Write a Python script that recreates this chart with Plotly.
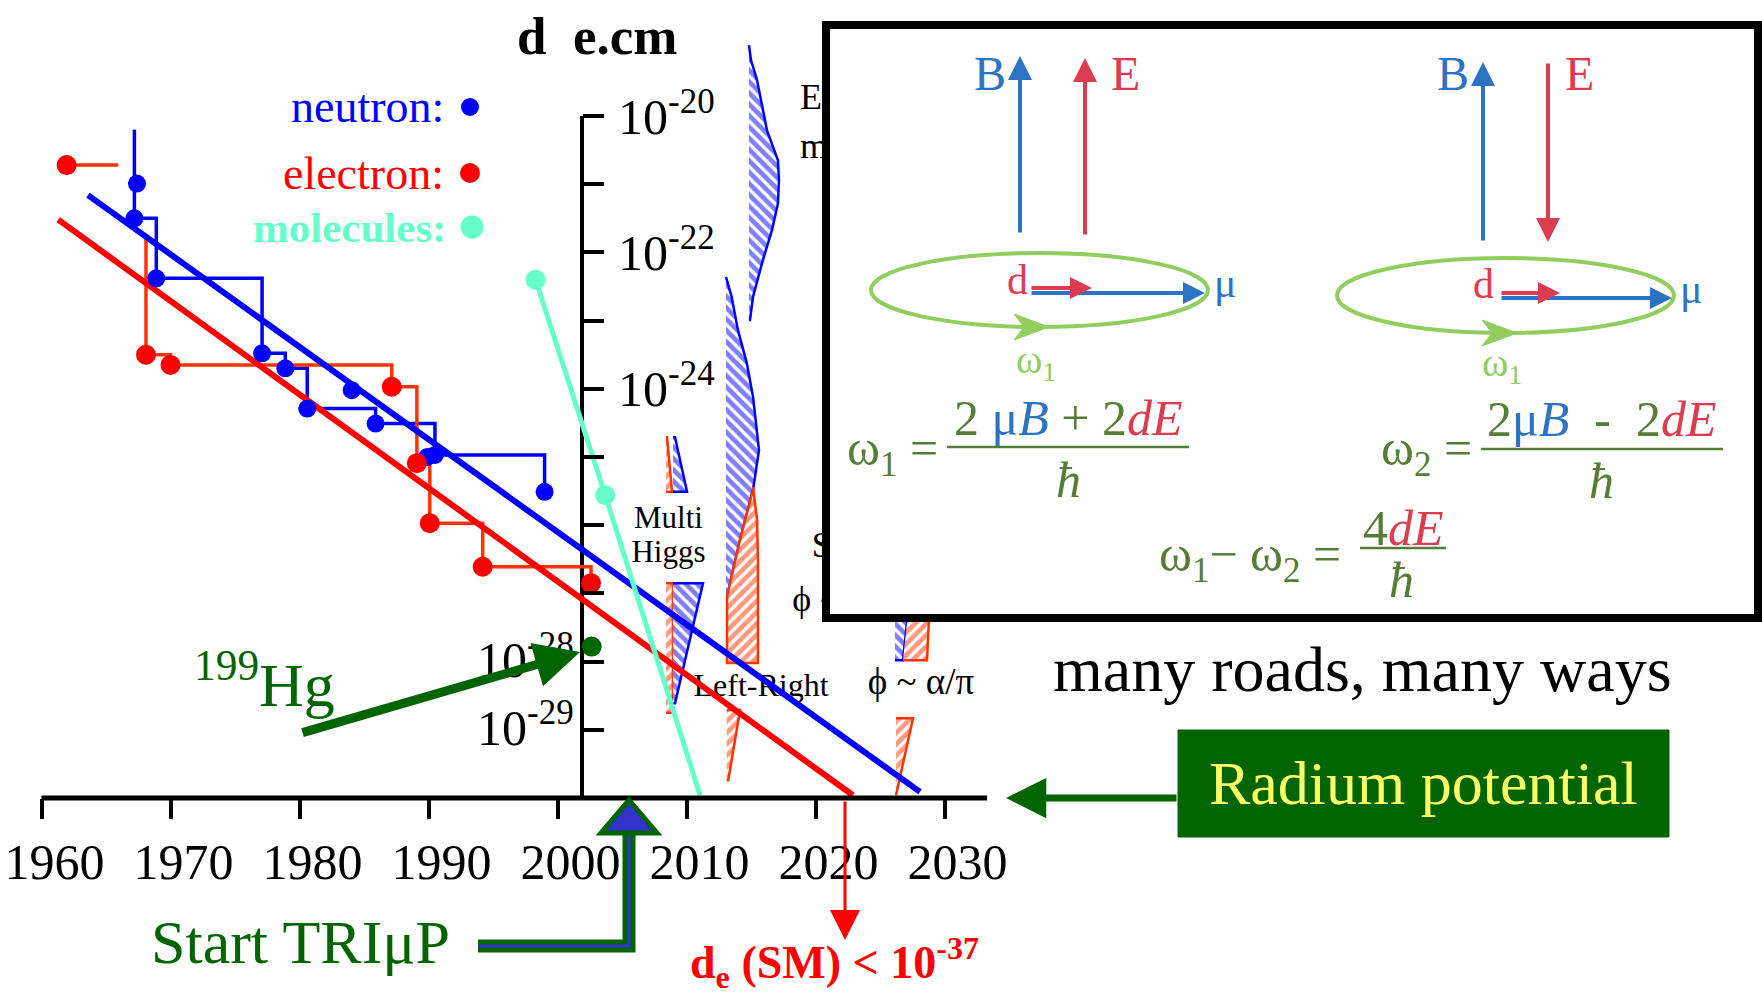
import plotly.graph_objects as go

W, H = 1762, 1000
SERIF = "Liberation Serif"

# ---------------- data (years, log10 of d in e.cm) ----------------
x_tick_years = [1960, 1970, 1980, 1990, 2000, 2010, 2020, 2030]
y_tick_exponents = [-20, -21, -22, -23, -24, -25, -26, -27, -28, -29]
y_labels_right = [-20, -22, -24]
y_labels_left = [-28, -29]

neutron_step_year = [1967.2, 1968.9, 1977.1, 1978.9, 1980.6, 1985.9, 1990.5, 1999.0]
neutron_step_log = [-21.50, -22.38, -23.48, -23.70, -24.29, -24.51, -24.97, -25.51]
neutron_extra_year = [1967.4, 1984.05, 1989.9]
neutron_extra_log = [-20.99, -24.02, -25.00]
neutron_errbar_year = [1967.2, 1967.2]
neutron_errbar_log = [-20.20, -21.50]

electron_first_year = [1961.95, 1965.95]
electron_first_log = [-20.72, -20.72]
electron_drop_year = [1968.1, 1968.1]
electron_drop_log = [-21.77, -23.50]
electron_step_year = [1968.1, 1970.0, 1987.15, 1989.1, 1990.1, 1994.2, 2002.6]
electron_step_log = [-23.50, -23.65, -23.97, -25.09, -25.97, -26.61, -26.85]

molecule_year = [1998.3, 2003.7]
molecule_log = [-22.40, -25.56]
molecule_trend_year = [1998.3, 2003.7, 2011.05]
molecule_trend_log = [-22.40, -25.56, -29.96]

hg_year = [2002.65]
hg_log = [-27.78]

neutron_fit_year = [1963.6, 2028.1]
neutron_fit_log = [-21.16, -29.91]
electron_fit_year = [1961.3, 2022.9]
electron_fit_log = [-21.52, -29.96]

# theory prediction bands (hatched)
exotic_blue_year = [2014.84, 2015.00, 2015.46, 2016.24, 2017.09, 2017.17, 2017.09, 2016.63, 2015.85, 2015.16, 2014.92, 2014.84]
exotic_blue_log = [-18.96, -19.18, -19.47, -20.21, -20.65, -20.94, -21.28, -21.67, -22.16, -22.65, -22.99, -22.99]
susy_blue_year = [2013.06, 2013.50, 2013.99, 2014.67, 2015.16, 2015.47, 2015.62, 2015.47, 2015.16, 2014.14, 2013.14, 2013.06]
susy_blue_log = [-22.36, -22.65, -23.14, -23.62, -24.12, -24.60, -24.90, -25.09, -25.48, -26.22, -27.05, -27.05]
susy_red_year = [2015.16, 2015.47, 2015.54, 2015.54, 2013.14, 2013.14, 2014.14, 2015.16]
susy_red_log = [-25.44, -25.92, -26.51, -28.02, -28.02, -27.05, -26.22, -25.48]
lr_red_year = [2013.12, 2014.15, 2013.24, 2013.12]
lr_red_log = [-28.71, -28.71, -29.74, -29.74]
mh_up_red_year = [2008.41, 2008.49, 2008.88, 2008.41]
mh_up_red_log = [-24.71, -24.71, -25.51, -25.51]
mh_up_blue_year = [2008.95, 2009.11, 2010.04, 2008.95]
mh_up_blue_log = [-24.71, -24.71, -25.51, -25.51]
mh_lo_red_year = [2008.41, 2008.95, 2008.95, 2008.41]
mh_lo_red_log = [-26.85, -26.85, -28.75, -28.75]
mh_lo_blue_year = [2008.95, 2011.28, 2009.11, 2008.95]
mh_lo_blue_log = [-26.85, -26.85, -28.61, -28.61]
ap_blue_year = [2026.16, 2027.63, 2026.78, 2026.16]
ap_blue_log = [-26.51, -26.51, -27.98, -27.98]
ap_red_year = [2027.63, 2029.03, 2028.64, 2026.78]
ap_red_log = [-26.51, -26.51, -27.98, -27.98]
ap_tail_year = [2026.24, 2027.56, 2026.24]
ap_tail_log = [-28.83, -28.83, -29.96]

theory_labels = ["Multi", "Higgs", "Left-Right", "ϕ ~ α/π"]
theory_label_year = [2008.6, 2008.6, 2015.78, 2028.18]
theory_label_log = [-25.93, -26.43, -28.39, -28.34]
theory_label_size = [31, 31, 32, 37]
hidden_labels = ["Exotic", "models", "SUSY", "ϕ ~ 1"]
hidden_label_year = [2018.8, 2018.8, 2019.7, 2018.2]
hidden_label_log = [-19.77, -20.48, -26.33, -27.13]

# ---------------- geometry helpers ----------------
X_1960, PX_PER_YEAR = 41.5, 12.9
Y_M20, PX_PER_DEC = 116.0, 68.2
x_range = [1960 - X_1960 / PX_PER_YEAR, 1960 + (W - X_1960) / PX_PER_YEAR]
y_range = [-20 - (H - Y_M20) / PX_PER_DEC, -20 + Y_M20 / PX_PER_DEC]
AXIS_YEAR = 2001.9
AXIS_TOP, AXIS_BOTTOM = -20, -30
XAXIS_END = 2033.3


def px(X):
    return X / W


def py(Y):
    return 1 - Y / H


def xpaper(year):
    return (year - x_range[0]) / (x_range[1] - x_range[0])


def ypaper(lg):
    return (lg - y_range[0]) / (y_range[1] - y_range[0])


def lin(v):
    return [10 ** a for a in v]


BLUE = "#0000FF"
RED = "#FF0000"
ORANGE = "#FF3300"
AQUA = "#66FFCC"
DGREEN = "#006400"
DBLUE = "rgb(45,115,195)"
DRED = "rgb(220,60,80)"
LGREEN = "rgb(145,205,95)"
EQGREEN = "rgb(85,125,55)"

fig = go.Figure()


def hatch(xs, ys, color, shape):
    fig.add_trace(go.Scatter(
        x=xs, y=lin(ys), mode="lines", fill="toself",
        fillcolor="rgba(0,0,0,0)",
        fillpattern=dict(shape=shape, fgcolor=color, bgcolor="white", size=8, solidity=0.6),
        line=dict(color=color, width=2.5), hoverinfo="skip"))


hatch(exotic_blue_year, exotic_blue_log, BLUE, "\\")
hatch(susy_blue_year, susy_blue_log, BLUE, "\\")
hatch(susy_red_year, susy_red_log, ORANGE, "/")
hatch(lr_red_year, lr_red_log, ORANGE, "/")
hatch(mh_up_red_year, mh_up_red_log, ORANGE, "/")
hatch(mh_up_blue_year, mh_up_blue_log, BLUE, "\\")
hatch(mh_lo_red_year, mh_lo_red_log, ORANGE, "/")
hatch(mh_lo_blue_year, mh_lo_blue_log, BLUE, "\\")
hatch(ap_blue_year, ap_blue_log, BLUE, "\\")
hatch(ap_red_year, ap_red_log, ORANGE, "/")
hatch(ap_tail_year, ap_tail_log, ORANGE, "/")

# theory labels (under the lines)
fig.add_trace(go.Scatter(
    x=theory_label_year, y=lin(theory_label_log), mode="text", text=theory_labels,
    textposition="middle center",
    textfont=dict(family=SERIF, size=theory_label_size, color="black"),
    hoverinfo="skip"))
fig.add_trace(go.Scatter(
    x=hidden_label_year, y=lin(hidden_label_log), mode="text", text=hidden_labels,
    textposition="middle right", textfont=dict(family=SERIF, size=36, color="black"),
    hoverinfo="skip"))

# step histories
fig.add_trace(go.Scatter(x=neutron_step_year, y=lin(neutron_step_log), mode="lines",
                         line=dict(color=BLUE, width=3.5, shape="hv"), hoverinfo="skip"))
fig.add_trace(go.Scatter(x=neutron_errbar_year, y=lin(neutron_errbar_log), mode="lines",
                         line=dict(color=BLUE, width=3.5), hoverinfo="skip"))
fig.add_trace(go.Scatter(x=electron_step_year, y=lin(electron_step_log), mode="lines",
                         line=dict(color=ORANGE, width=3.5, shape="hv"), hoverinfo="skip"))
fig.add_trace(go.Scatter(x=electron_first_year, y=lin(electron_first_log), mode="lines",
                         line=dict(color=ORANGE, width=3.5), hoverinfo="skip"))
fig.add_trace(go.Scatter(x=electron_drop_year, y=lin(electron_drop_log), mode="lines",
                         line=dict(color=ORANGE, width=3.5), hoverinfo="skip"))

# trend lines
fig.add_trace(go.Scatter(x=neutron_fit_year, y=lin(neutron_fit_log), mode="lines",
                         line=dict(color=BLUE, width=6), hoverinfo="skip"))
fig.add_trace(go.Scatter(x=electron_fit_year, y=lin(electron_fit_log), mode="lines",
                         line=dict(color=RED, width=6), hoverinfo="skip"))

# points
fig.add_trace(go.Scatter(x=neutron_step_year + neutron_extra_year,
                         y=lin(neutron_step_log + neutron_extra_log), mode="markers",
                         marker=dict(color=BLUE, size=18), hoverinfo="skip"))
fig.add_trace(go.Scatter(x=electron_first_year[:1] + electron_step_year,
                         y=lin(electron_first_log[:1] + electron_step_log), mode="markers",
                         marker=dict(color=RED, size=20), hoverinfo="skip"))
fig.add_trace(go.Scatter(x=molecule_trend_year, y=lin(molecule_trend_log), mode="lines",
                         line=dict(color=AQUA, width=5), hoverinfo="skip"))
fig.add_trace(go.Scatter(x=molecule_year, y=lin(molecule_log), mode="markers",
                         marker=dict(color=AQUA, size=20), hoverinfo="skip"))
fig.add_trace(go.Scatter(x=hg_year, y=lin(hg_log), mode="markers",
                         marker=dict(color=DGREEN, size=20), hoverinfo="skip"))

# ---------------- shapes ----------------
shapes = []
# axis lines (positions taken from the axis scales)
shapes.append(dict(type="line", xref="paper", yref="paper",
                   x0=xpaper(AXIS_YEAR), x1=xpaper(AXIS_YEAR),
                   y0=ypaper(AXIS_BOTTOM), y1=ypaper(AXIS_TOP),
                   line=dict(color="black", width=4), layer="below"))
shapes.append(dict(type="line", xref="paper", yref="paper",
                   x0=xpaper(x_tick_years[0]), x1=xpaper(XAXIS_END),
                   y0=ypaper(AXIS_BOTTOM), y1=ypaper(AXIS_BOTTOM),
                   line=dict(color="black", width=5), layer="above"))

# legend dots
for (X, Y, r, c) in [(470, 107, 9, BLUE), (470, 173, 10, RED), (472, 227, 11.5, AQUA)]:
    shapes.append(dict(type="circle", xref="paper", yref="paper", x0=px(X - r), x1=px(X + r),
                       y0=py(Y + r), y1=py(Y - r), fillcolor=c, line=dict(width=0)))

# inset box
shapes.append(dict(type="rect", xref="paper", yref="paper", x0=px(826), x1=px(1758),
                   y0=py(618), y1=py(25), fillcolor="white", line=dict(color="black", width=8),
                   layer="above"))
# ellipses
for (x0, x1, y0, y1) in [(871, 1208, 253, 327), (1337, 1674, 258, 333)]:
    shapes.append(dict(type="circle", xref="paper", yref="paper", x0=px(x0), x1=px(x1),
                       y0=py(y1), y1=py(y0), line=dict(color=LGREEN, width=4), layer="above"))


def path(points, close=True):
    s = "M " + " L ".join(f"{px(a):.5f},{py(b):.5f}" for a, b in points)
    return s + (" Z" if close else "")


for (tx, ty) in [(1049, 327), (1517, 333)]:
    shapes.append(dict(type="path", xref="paper", yref="paper",
                       path=path([(tx, ty), (tx - 35, ty - 13), (tx - 25, ty), (tx - 35, ty + 13)]),
                       fillcolor=LGREEN, line=dict(color=LGREEN, width=1), layer="above"))
# fraction bars
for (x0, x1, y) in [(947, 1189, 447), (1481, 1723, 449), (1360, 1446, 548)]:
    shapes.append(dict(type="line", xref="paper", yref="paper", x0=px(x0), x1=px(x1),
                       y0=py(y), y1=py(y), line=dict(color=EQGREEN, width=2.5), layer="above"))

# Radium box
shapes.append(dict(type="rect", xref="paper", yref="paper", x0=px(1178), x1=px(1669),
                   y0=py(837), y1=py(730), fillcolor=DGREEN, line=dict(color=DGREEN, width=1),
                   layer="above"))

# Start TRIuP bent arrow
bent = [(478, 946), (629, 946), (629, 830)]
shapes.append(dict(type="path", xref="paper", yref="paper", path=path(bent, close=False),
                   line=dict(color=DGREEN, width=13), layer="above"))
shapes.append(dict(type="path", xref="paper", yref="paper", path=path(bent, close=False),
                   line=dict(color="rgb(50,50,205)", width=3), layer="above"))
shapes.append(dict(type="path", xref="paper", yref="paper",
                   path=path([(629, 800), (657, 833), (601, 833)]),
                   fillcolor="rgb(50,50,205)", line=dict(color=DGREEN, width=5), layer="above"))

# ---------------- annotations ----------------
ann = []


def text(t, X, Y, size, color, xanchor="center", yanchor="middle"):
    ann.append(dict(text=t, x=px(X), y=py(Y), xref="paper", yref="paper", xanchor=xanchor,
                    yanchor=yanchor, showarrow=False, font=dict(family=SERIF, size=size, color=color)))


def arrow(tip, tail, color, width, size):
    ann.append(dict(text="", x=px(tip[0]), y=py(tip[1]), xref="paper", yref="paper",
                    ax=tail[0] - tip[0], ay=tail[1] - tip[1], showarrow=True, arrowhead=2,
                    arrowsize=size, arrowwidth=width, arrowcolor=color))


text("<b>d\u00a0\u00a0e.cm</b>", 515, 36, 53, "black", xanchor="left")
text("neutron:", 446, 107, 46, BLUE, xanchor="right")
text("electron:", 446, 173, 46, RED, xanchor="right")
text("<b>molecules:</b>", 448, 228, 43, AQUA, xanchor="right")

for e in y_labels_left:
    ann.append(dict(text=f"10<sup>{e}</sup>", x=AXIS_YEAR, y=e, xref="x", yref="y",
                    xanchor="right", yanchor="middle", xshift=-6, yshift=5, showarrow=False,
                    font=dict(family=SERIF, size=50, color="black")))

text("<sup>199</sup>Hg", 337, 680, 62, DGREEN, xanchor="right")
arrow((580, 652), (301, 733), DGREEN, 9, 1.0)

text("many roads, many ways", 1362, 669, 64, "black")
text("Radium potential", 1423, 783, 62, "#FFFF66")
arrow((1006, 798), (1178, 798), DGREEN, 7, 1.15)
text("Start TRIμP", 300, 942, 62, DGREEN)
arrow((845, 940), (845, 800), RED, 3, 2.0)
text("<b>d<sub>e</sub> (SM) &lt; 10<sup>-37</sup></b>", 834, 962, 46, RED)

# inset diagram
text("B", 990, 74, 48, DBLUE)
text("E", 1125, 74, 48, DRED)
text("B", 1453, 74, 48, DBLUE)
text("E", 1579, 74, 48, DRED)
arrow((1020, 56), (1020, 234), DBLUE, 4, 1.2)
arrow((1085, 58), (1085, 236), DRED, 4, 1.2)
arrow((1483, 62), (1483, 242), DBLUE, 4, 1.2)
arrow((1548, 242), (1548, 62), DRED, 4, 1.2)
arrow((1205, 293), (1030, 293), DBLUE, 4, 1.1)
arrow((1092, 288), (1030, 288), DRED, 4, 1.1)
arrow((1672, 298), (1500, 298), DBLUE, 4, 1.1)
arrow((1560, 293), (1500, 293), DRED, 4, 1.1)
text("d", 1017, 280, 42, DRED)
text("μ", 1225, 283, 42, DBLUE)
text("d", 1483, 284, 42, DRED)
text("μ", 1691, 289, 42, DBLUE)
text("ω<sub>1</sub>", 1036, 362, 40, LGREEN)
text("ω<sub>1</sub>", 1502, 365, 40, LGREEN)

text("ω<sub>1</sub> =", 940, 452, 50, EQGREEN, xanchor="right")
text(f"2 <span style='color:{DBLUE}'>μ<i>B</i></span> + 2<span style='color:{DRED}'><i>dE</i></span>",
     1068, 418, 50, EQGREEN)
text("<i>ħ</i>", 1068, 480, 50, EQGREEN)
text("ω<sub>2</sub> =", 1474, 452, 50, EQGREEN, xanchor="right")
text(f"2<span style='color:{DBLUE}'>μ<i>B</i></span>\u00a0 - \u00a02<span style='color:{DRED}'><i>dE</i></span>",
     1602, 419, 50, EQGREEN)
text("<i>ħ</i>", 1601, 481, 50, EQGREEN)
text("ω<sub>1</sub>− ω<sub>2</sub> =", 1343, 558, 50, EQGREEN, xanchor="right")
text(f"4<span style='color:{DRED}'><i>dE</i></span>", 1403, 528, 50, EQGREEN)
text("<i>ħ</i>", 1401, 580, 50, EQGREEN)

# ---------------- layout ----------------
y_ticktext = [f"10<sup>{e}</sup>" if e in y_labels_right else "" for e in y_tick_exponents]

fig.update_layout(
    width=W, height=H, margin=dict(l=0, r=0, t=0, b=0),
    paper_bgcolor="white", plot_bgcolor="white", showlegend=False,
    xaxis=dict(range=x_range, showgrid=False, zeroline=False, showline=False,
               anchor="free", position=ypaper(AXIS_BOTTOM), side="bottom",
               tickvals=x_tick_years, ticktext=[str(v) for v in x_tick_years],
               ticks="outside", ticklen=20, tickwidth=4, tickcolor="black",
               ticklabelstandoff=0, ticklabelshift=13, ticklabeloverflow="allow",
               tickfont=dict(family=SERIF, size=50, color="black")),
    yaxis=dict(type="log", range=y_range, showgrid=False, zeroline=False, showline=False,
               anchor="free", position=xpaper(AXIS_YEAR), side="right",
               tickvals=[10 ** e for e in y_tick_exponents], ticktext=y_ticktext,
               ticks="outside", ticklen=21, tickwidth=4, tickcolor="black",
               ticklabelstandoff=4,
               tickfont=dict(family=SERIF, size=50, color="black")),
    shapes=shapes, annotations=ann,
)

fig.write_html("out.html")
